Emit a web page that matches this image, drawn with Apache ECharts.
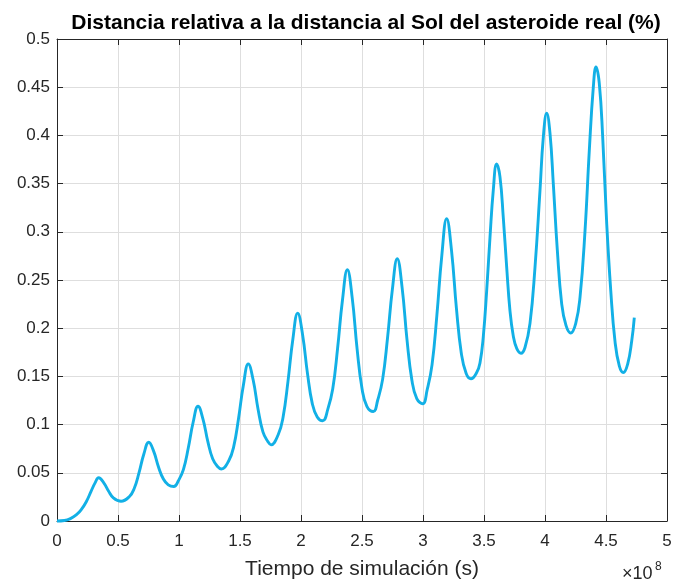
<!DOCTYPE html>
<html>
<head>
<meta charset="utf-8">
<script src="https://cdn.jsdelivr.net/npm/echarts@6/dist/echarts.min.js"></script>
<style>
  html, body { margin: 0; padding: 0; background: #fff; }
  #chart { width: 675px; height: 586px; }
</style>
</head>
<body>
<div id="chart"></div>
<script>
// tiempo de simulación en unidades de 1e8 s
const timeVals = [
  0, 0.06, 0.11, 0.16, 0.2, 0.24, 0.28, 0.31, 0.342,
  0.382, 0.422, 0.462, 0.525,
  0.592, 0.632, 0.672, 0.712, 0.752, 0.792, 0.832, 0.872, 0.912, 0.957,
  0.996, 1.036, 1.076, 1.116, 1.156, 1.196, 1.236, 1.276, 1.316, 1.347,
  1.408, 1.448, 1.488, 1.528, 1.568, 1.608, 1.648, 1.688, 1.728, 1.754,
  1.813, 1.853, 1.893, 1.933, 1.973, 2.013, 2.053, 2.093, 2.133, 2.178,
  2.22, 2.26, 2.30, 2.34, 2.38, 2.42, 2.46, 2.50, 2.54, 2.593,
  2.629, 2.669, 2.709, 2.749, 2.789, 2.829, 2.869, 2.909, 2.949, 2.998,
  3.034, 3.074, 3.114, 3.154, 3.194, 3.234, 3.274, 3.314, 3.354, 3.393,
  3.44, 3.467, 3.494, 3.522, 3.549, 3.576, 3.604, 3.631, 3.658, 3.686, 3.713, 3.740, 3.768, 3.803,
  3.836, 3.877, 3.918, 3.959, 3.986, 4.014, 4.041, 4.068, 4.101, 4.137, 4.172, 4.211,
  4.252, 4.287, 4.328, 4.363, 4.396, 4.418, 4.445, 4.473, 4.506, 4.539, 4.574, 4.609, 4.642,
  4.678, 4.711, 4.732
];
// distancia relativa (%)
const distVals = [
  0, 0.0005, 0.0025, 0.0065, 0.012, 0.02, 0.031, 0.039, 0.0448,
  0.0399, 0.0312, 0.0241, 0.0205,
  0.0252, 0.0334, 0.0499, 0.0695, 0.0817, 0.0725, 0.056, 0.0435, 0.0375, 0.0358,
  0.042, 0.0533, 0.0757, 0.1024, 0.119, 0.106, 0.0826, 0.0645, 0.0565, 0.054,
  0.0625, 0.0769, 0.1063, 0.1412, 0.163, 0.1462, 0.116, 0.0925, 0.0825, 0.079,
  0.0895, 0.1077, 0.1446, 0.1883, 0.2156, 0.1933, 0.1531, 0.1215, 0.108, 0.104,
  0.116, 0.1369, 0.1792, 0.2293, 0.2606, 0.2312, 0.1783, 0.1375, 0.119, 0.1136,
  0.1255, 0.1469, 0.1896, 0.2403, 0.272, 0.2419, 0.1878, 0.146, 0.127, 0.1216,
  0.136, 0.1619, 0.2137, 0.2751, 0.3135, 0.2803, 0.2205, 0.174, 0.153, 0.1475,
  0.154, 0.164, 0.191, 0.239, 0.294, 0.343, 0.3705, 0.357, 0.315, 0.263, 0.218, 0.192, 0.179, 0.174,
  0.180, 0.205, 0.263, 0.343, 0.398, 0.423, 0.402, 0.350, 0.281, 0.225, 0.203, 0.195,
  0.205, 0.232, 0.301, 0.384, 0.450, 0.471, 0.454, 0.398, 0.308, 0.239, 0.186, 0.161, 0.154,
  0.163, 0.187, 0.211
];
const xTicks = [0, 0.5, 1, 1.5, 2, 2.5, 3, 3.5, 4, 4.5, 5];
const yTicks = [0, 0.05, 0.1, 0.15, 0.2, 0.25, 0.3, 0.35, 0.4, 0.45, 0.5];

const txt = "#262626";
const fontFam = "'Liberation Sans', Arial, Helvetica, sans-serif";
const fmt = v => String(Math.round(v * 1000) / 1000);

const chart = echarts.init(document.getElementById("chart"));

const baseX = {
  type: "value",
  min: xTicks[0],
  max: xTicks[xTicks.length - 1],
  interval: 0.5,
  axisLine: { show: true, onZero: false, lineStyle: { color: txt, width: 1 } },
  axisTick: { show: true, inside: true, length: 6, lineStyle: { color: txt } }
};
const baseY = {
  type: "value",
  min: yTicks[0],
  max: yTicks[yTicks.length - 1],
  interval: 0.05,
  axisLine: { show: true, onZero: false, lineStyle: { color: txt, width: 1 } },
  axisTick: { show: true, inside: true, length: 6, lineStyle: { color: txt } }
};

const option = {
  animation: false,
  backgroundColor: "#fff",
  textStyle: { fontFamily: fontFam },
  title: {
    text: "Distancia relativa a la distancia al Sol del asteroide real (%)",
    left: 361,
    textAlign: "center",
    top: 8,
    textStyle: { fontSize: 21, fontWeight: "bold", color: "#000", fontFamily: fontFam }
  },
  grid: { left: 57, right: 8, top: 39, bottom: 65 },
  xAxis: [
    Object.assign({}, baseX, {
      position: "bottom",
      name: "Tiempo de simulación (s)",
      nameLocation: "middle",
      nameGap: 38,
      nameTextStyle: { fontSize: 21, color: txt, fontFamily: fontFam },
      axisLabel: { color: txt, fontSize: 17, margin: 12, formatter: fmt, fontFamily: fontFam },
      splitLine: { show: true, lineStyle: { color: "#dedede", width: 1 } }
    }),
    Object.assign({}, baseX, {
      position: "top",
      axisLabel: { show: false },
      splitLine: { show: false }
    })
  ],
  yAxis: [
    Object.assign({}, baseY, {
      position: "left",
      axisLabel: { color: txt, fontSize: 17, margin: 7, formatter: fmt, fontFamily: fontFam },
      splitLine: { show: true, lineStyle: { color: "#dedede", width: 1 } }
    }),
    Object.assign({}, baseY, {
      position: "right",
      axisLabel: { show: false },
      splitLine: { show: false }
    })
  ],
  graphic: [
    {
      type: "text",
      x: 622,
      y: 574,
      style: { text: "×10", fill: txt, font: "18px " + fontFam, verticalAlign: "middle" }
    },
    {
      type: "text",
      x: 655,
      y: 567,
      style: { text: "8", fill: txt, font: "12px " + fontFam, verticalAlign: "middle" }
    }
  ],
  series: [
    {
      type: "line",
      data: timeVals.map((t, i) => [t, distVals[i]]),
      showSymbol: false,
      smooth: 0.45,
      lineStyle: { color: "#12b0e6", width: 2.9 },
      clip: false
    }
  ]
};

chart.setOption(option);
</script>
</body>
</html>
